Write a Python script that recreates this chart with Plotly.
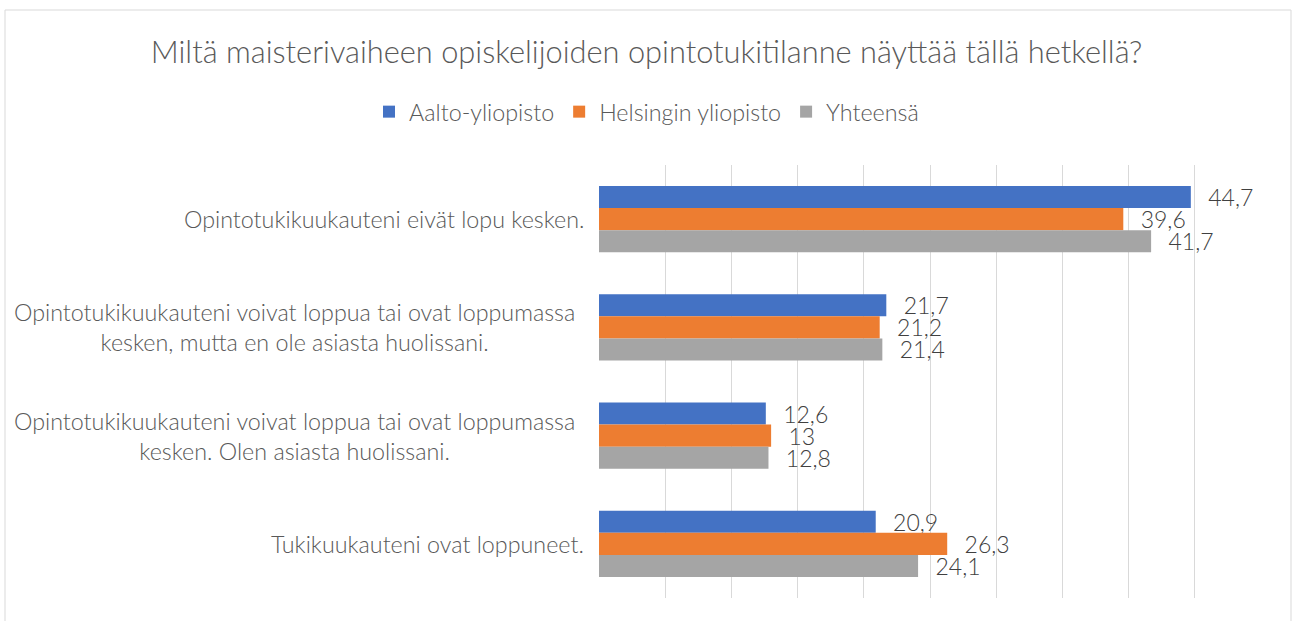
import plotly.graph_objects as go

categories = [
    "Opintotukikuukauteni eivät lopu kesken.",
    "Opintotukikuukauteni voivat loppua tai ovat loppumassa<br>kesken, mutta en ole asiasta huolissani.",
    "Opintotukikuukauteni voivat loppua tai ovat loppumassa<br>kesken. Olen asiasta huolissani.",
    "Tukikuukauteni ovat loppuneet.",
]
series_names = ["Aalto-yliopisto", "Helsingin yliopisto", "Yhteensä"]
aalto = [44.7, 21.7, 12.6, 20.9]
helsinki = [39.6, 21.2, 13.0, 26.3]
yhteensa = [41.7, 21.4, 12.8, 24.1]
colors = ["#4472C4", "#ED7D31", "#A5A5A5"]

W, H = 1293, 621
L, R, T, B = 599, 1261, 165, 598
FONT = "Lato"
WEIGHT = 300

def fmt(v):
    s = ("%.1f" % v).rstrip("0").rstrip(".")
    return s.replace(".", ",")

fig = go.Figure()
for name, vals, col in zip(series_names, [aalto, helsinki, yhteensa], colors):
    fig.add_trace(go.Bar(
        name=name, y=categories, x=vals, orientation="h",
        marker=dict(color=col, line=dict(width=0)),
        text=["\u2002\u2009" + fmt(v) for v in vals], textposition="outside",
        textfont=dict(family=FONT, size=23, color="#404040", weight=WEIGHT),
        constraintext="none", cliponaxis=False, hoverinfo="skip",
    ))

annotations = []
for c in categories:
    annotations.append(dict(
        x=0, xref="paper", y=c, yref="y", text=c, showarrow=False,
        xanchor="right", yanchor="middle", align="center",
        xshift=-22 if "<br>" in c else -13,
        font=dict(family=FONT, size=23.3, color="#595959", weight=WEIGHT),
    ))

pw, ph = R - L, B - T
def px2paper_x(px):
    return (px - L) / pw
def px2paper_y(py):
    return 1 - (py - T) / ph

fig.update_layout(
    width=W, height=H,
    margin=dict(l=L, r=W - R, t=T, b=H - B, autoexpand=False),
    paper_bgcolor="white", plot_bgcolor="white",
    barmode="group", bargap=0.39, bargroupgap=0,
    title=dict(
        text="Miltä maisterivaiheen opiskelijoiden opintotukitilanne näyttää tällä hetkellä?",
        x=0.5, xanchor="center", y=1 - 52 / H, yanchor="middle",
        font=dict(family=FONT, size=30.8, color="#595959", weight=WEIGHT),
    ),
    legend=dict(
        orientation="h", x=0.5, xref="container", xanchor="center",
        y=1 - 112 / H, yref="container", yanchor="middle",
        font=dict(family=FONT, size=23.3, color="#595959", weight=WEIGHT),
        itemwidth=30, traceorder="normal",
    ),
    xaxis=dict(
        range=[0, 50], dtick=5, showgrid=True, gridcolor="#D9D9D9", gridwidth=1,
        showticklabels=False, zeroline=False, showline=False, fixedrange=True,
    ),
    yaxis=dict(
        autorange="reversed", showticklabels=False, showgrid=False,
        zeroline=False, showline=False, fixedrange=True,
    ),
    annotations=annotations,
    shapes=[dict(
        type="rect", xref="paper", yref="paper",
        x0=px2paper_x(5), x1=px2paper_x(1291), y0=px2paper_y(640), y1=px2paper_y(10),
        line=dict(color="#D9D9D9", width=1), fillcolor="rgba(0,0,0,0)", layer="below",
    )],
    showlegend=True,
    hovermode=False,
)

fig.write_html("out.html", config={"displayModeBar": False},
               post_script="document.body.style.margin='0';")
